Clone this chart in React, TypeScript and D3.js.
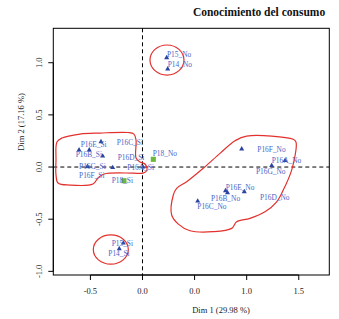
import React from "react";
import * as d3 from "d3";

const W = 339;
const H = 319;

const title = "Conocimiento del consumo";
const xTitle = "Dim 1 (29.98 %)";
const yTitle = "Dim 2 (17.16 %)";

const xTicks = [-0.5, 0, 0.5, 1, 1.5];
const xTickLabels = ["-0.5", "0.0", "0.0", "1.0", "1.5"];
const yTicks = [-1, -0.5, 0, 0.5, 1];
const yTickLabels = ["-1.0", "-0.5", "0.0", "0.5", "1.0"];

const categories = [
  "P15_No", "P14_No",
  "P16E_Si", "P16B_Si", "P16C_Si", "P16D_Si", "P16G_Si", "P16F_Si", "P16A_Si",
  "P18_No", "P18_Si",
  "P16F_No", "P16A_No", "P16G_No", "P16E_No", "P16B_No", "P16D_No", "P16C_No",
  "P15_Si", "P14_Si",
];
const dim1 = [
  0.232, 0.242,
  -0.398, -0.382, -0.511, -0.286, -0.528, -0.609, 0.005,
  0.104, -0.178,
  0.952, 1.368, 1.240, 0.797, 0.816, 0.977, 0.530,
  -0.184, -0.223,
];
const dim2 = [
  1.048, 0.94,
  0.243, 0.105, 0.163, -0.005, 0.005, 0.163, 0.0,
  0.074, -0.131,
  0.173, 0.062, 0.014, -0.227, -0.246, -0.237, -0.326,
  -0.729, -0.783,
];
const kind = [
  "t", "t",
  "t", "t", "t", "t", "t", "t", "t",
  "s", "s",
  "t", "t", "t", "t", "t", "t", "t",
  "t", "t",
];
// repelled label anchors (data units)
const labelDim1 = [
  0.235, 0.242,
  -0.593, -0.641, -0.248, -0.238, -0.609, -0.609, -0.146,
  0.098, -0.296,
  1.102, 1.240, 1.089, 0.798, 0.657, 1.128, 0.526,
  -0.296, -0.328,
];
const labelDim2 = [
  1.083, 0.978,
  0.211, 0.115, 0.237, 0.093, 0.003, -0.077, -0.005,
  0.125, -0.131,
  0.170, 0.060, -0.045, -0.195, -0.300, -0.291, -0.382,
  -0.729, -0.825,
];

// hand-drawn grouping outlines (data units)
const leftBlob: [number, number][] = [
  [-0.821, 0.24], [-0.773, 0.278], [-0.6, 0.316], [-0.408, 0.326], [-0.139, 0.331],
  [-0.082, 0.316], [-0.062, 0.259], [-0.062, 0.086], [-0.024, 0.048], [0.024, 0.029],
  [0.043, -0.029], [0.005, -0.058], [-0.091, -0.058], [-0.369, -0.067], [-0.427, -0.105],
  [-0.475, -0.163], [-0.696, -0.173], [-0.811, -0.153], [-0.83, -0.077], [-0.83, 0.067],
];
const rightBlob: [number, number][] = [
  [1.0, 0.297], [1.447, 0.266], [1.473, 0.24], [1.473, 0.163], [1.432, -0.029],
  [1.351, -0.221], [1.288, -0.333], [1.176, -0.429], [1.032, -0.492], [0.904, -0.524],
  [0.856, -0.588], [0.679, -0.62], [0.456, -0.611], [0.344, -0.547], [0.28, -0.46],
  [0.296, -0.268], [0.328, -0.204], [0.424, -0.141], [0.583, -0.012], [0.744, 0.131],
  [0.888, 0.252],
];
const ellipseCx = [0.235, -0.304];
const ellipseCy = [1.026, -0.791];
const ellipseRx = [0.163, 0.168];
const ellipseRy = [0.144, 0.14];

export default function App() {
  const left = 53.3, right = 329.3, top = 28.3, bottom = 275;
  const x = d3.scaleLinear().domain([-0.856, 1.793]).range([left, right]);
  const y = d3.scaleLinear().domain([-1.035, 1.33]).range([bottom, top]);

  const line = d3
    .line<[number, number]>()
    .x((d) => x(d[0]))
    .y((d) => y(d[1]))
    .curve(d3.curveCatmullRomClosed.alpha(0.5));

  const tri = d3.symbol(d3.symbolTriangle, 11)()!;
  const sq = d3.symbol(d3.symbolSquare, 26)()!;

  const serif = "'Liberation Serif', 'DejaVu Serif', serif";
  const red = "#e3312d";

  return (
    <svg
      width={W}
      height={H}
      style={{ position: "absolute", left: 0, top: 0, background: "#fff" }}
      fontFamily={serif}
    >
      <rect x={0} y={0} width={W} height={H} fill="#fff" />
      <text x={259} y={16} textAnchor="middle" fontSize={11.5} fontWeight="bold" fill="#111">
        {title}
      </text>

      {/* dashed reference lines */}
      <line x1={x(0)} x2={x(0)} y1={top} y2={bottom} stroke="#000" strokeDasharray="4,3" strokeWidth={1} />
      <line x1={left} x2={right} y1={y(0)} y2={y(0)} stroke="#000" strokeDasharray="4,3" strokeWidth={1} />

      {/* outlines */}
      <path d={line(leftBlob)!} fill="none" stroke={red} strokeWidth={1.2} />
      <path d={line(rightBlob)!} fill="none" stroke={red} strokeWidth={1.2} />
      {ellipseCx.map((cx, i) => (
        <ellipse
          key={"e" + i}
          cx={x(cx)}
          cy={y(ellipseCy[i])}
          rx={x(ellipseRx[i]) - x(0)}
          ry={y(0) - y(ellipseRy[i])}
          fill="none"
          stroke={red}
          strokeWidth={1.2}
        />
      ))}

      {/* points */}
      {categories.map((c, i) =>
        kind[i] === "t" ? (
          <path key={"p" + c} d={tri} transform={`translate(${x(dim1[i])},${y(dim2[i])})`} fill="#2a44a0" />
        ) : (
          <path key={"p" + c} d={sq} transform={`translate(${x(dim1[i])},${y(dim2[i])})`} fill="#6cb83a" />
        )
      )}
      {categories.map((c, i) => (
        <text
          key={"l" + c}
          x={x(labelDim1[i])}
          y={y(labelDim2[i])}
          dy="0.33em"
          fontSize={7.4}
          fill="#4a68c8"
        >
          {c}
        </text>
      ))}

      {/* box */}
      <rect x={left} y={top} width={right - left} height={bottom - top} fill="none" stroke="#000" strokeWidth={1} />

      {/* x axis */}
      <line x1={x(xTicks[0])} x2={x(xTicks[xTicks.length - 1])} y1={bottom} y2={bottom} stroke="#000" />
      {xTicks.map((t, i) => (
        <g key={"xt" + i}>
          <line x1={x(t)} x2={x(t)} y1={bottom} y2={bottom + 5} stroke="#000" />
          <text x={x(t)} y={294} textAnchor="middle" fontSize={8.5} fill="#222">
            {xTickLabels[i]}
          </text>
        </g>
      ))}
      <text x={221} y={313} textAnchor="middle" fontSize={8.5} fill="#222">
        {xTitle}
      </text>

      {/* y axis */}
      <line x1={left} x2={left} y1={y(yTicks[0])} y2={y(yTicks[yTicks.length - 1])} stroke="#000" />
      {yTicks.map((t, i) => (
        <g key={"yt" + i}>
          <line x1={left - 5} x2={left} y1={y(t)} y2={y(t)} stroke="#000" />
          <text
            transform={`translate(42,${y(t)}) rotate(-90)`}
            textAnchor="middle"
            fontSize={8.5}
            fill="#222"
          >
            {yTickLabels[i]}
          </text>
        </g>
      ))}
      <text transform={`translate(24,122) rotate(-90)`} textAnchor="middle" fontSize={8.5} fill="#222">
        {yTitle}
      </text>
    </svg>
  );
}
